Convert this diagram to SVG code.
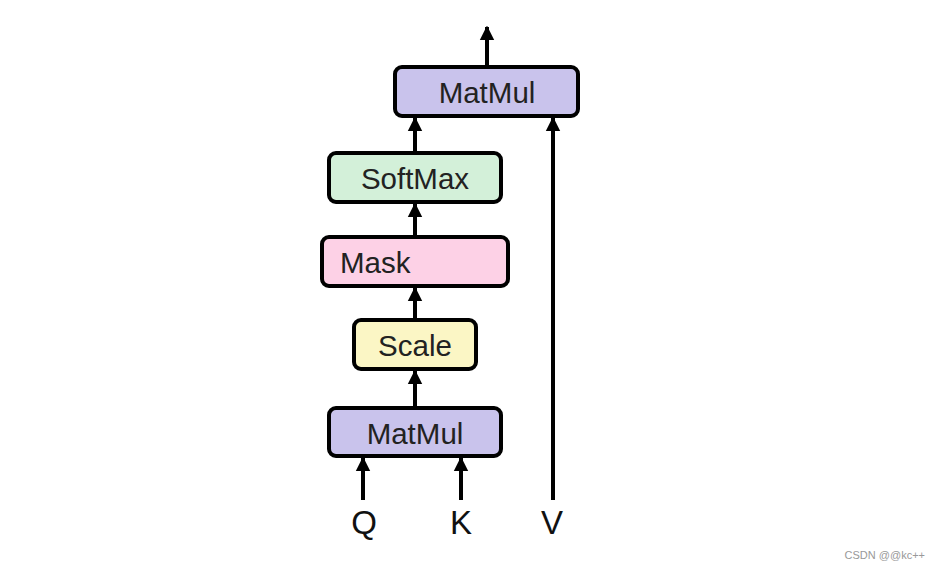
<svg xmlns="http://www.w3.org/2000/svg" width="941" height="569" viewBox="0 0 941 569">
<defs>
<marker id="ah" viewBox="0 0 10 10" refX="9" refY="5" markerWidth="3.6" markerHeight="3.8" orient="auto" markerUnits="strokeWidth">
<path d="M0,0 L10,5 L0,10 z" fill="#000"/>
</marker>
<style>
.box{stroke:#000;stroke-width:4;}
.lbl{font-family:"Liberation Sans",Arial,sans-serif;font-size:29.5px;fill:#222;}
.io{font-family:"Liberation Sans",Arial,sans-serif;font-size:33px;fill:#111;text-anchor:middle;}
.edge{stroke:#000;stroke-width:4;fill:none;}
</style>
</defs>
<rect width="941" height="569" fill="#fff"/>
<g id="connectors">
<line class="edge" x1="487" y1="67" x2="487" y2="27" marker-end="url(#ah)"/>
<line class="edge" x1="415" y1="152" x2="415" y2="118" marker-end="url(#ah)"/>
<line class="edge" x1="415" y1="236" x2="415" y2="204" marker-end="url(#ah)"/>
<line class="edge" x1="415" y1="319" x2="415" y2="288" marker-end="url(#ah)"/>
<line class="edge" x1="415" y1="407" x2="415" y2="371" marker-end="url(#ah)"/>
<line class="edge" x1="363" y1="500" x2="363" y2="458" marker-end="url(#ah)"/>
<line class="edge" x1="461" y1="500" x2="461" y2="458" marker-end="url(#ah)"/>
<line class="edge" x1="553" y1="500" x2="553" y2="118" marker-end="url(#ah)"/>
</g>
<g id="matmul-top">
<rect class="box" x="395" y="67" width="183" height="49" rx="7" fill="#c9c3ec"/>
<text class="lbl" x="487" y="103" text-anchor="middle">MatMul</text>
</g>
<g id="softmax">
<rect class="box" x="329" y="153" width="172" height="49" rx="7" fill="#d3f0d9"/>
<text class="lbl" x="415" y="189" text-anchor="middle">SoftMax</text>
</g>
<g id="mask">
<rect class="box" x="322" y="237" width="186" height="49" rx="7" fill="#fdd1e6"/>
<text class="lbl" x="340" y="273">Mask</text>
</g>
<g id="scale">
<rect class="box" x="354" y="320" width="122" height="49" rx="7" fill="#fbf6c5"/>
<text class="lbl" x="415" y="356" text-anchor="middle">Scale</text>
</g>
<g id="matmul-bottom">
<rect class="box" x="329" y="408" width="172" height="48" rx="7" fill="#c9c3ec"/>
<text class="lbl" x="415" y="444" text-anchor="middle">MatMul</text>
</g>
<g id="inputs">
<text class="io" x="364" y="534">Q</text>
<text class="io" x="461" y="534">K</text>
<text class="io" x="552" y="534">V</text>
</g>
<text x="925" y="559" text-anchor="end" font-family="'Liberation Sans',Arial,sans-serif" font-size="11" fill="#999">CSDN @@kc++</text>
</svg>
